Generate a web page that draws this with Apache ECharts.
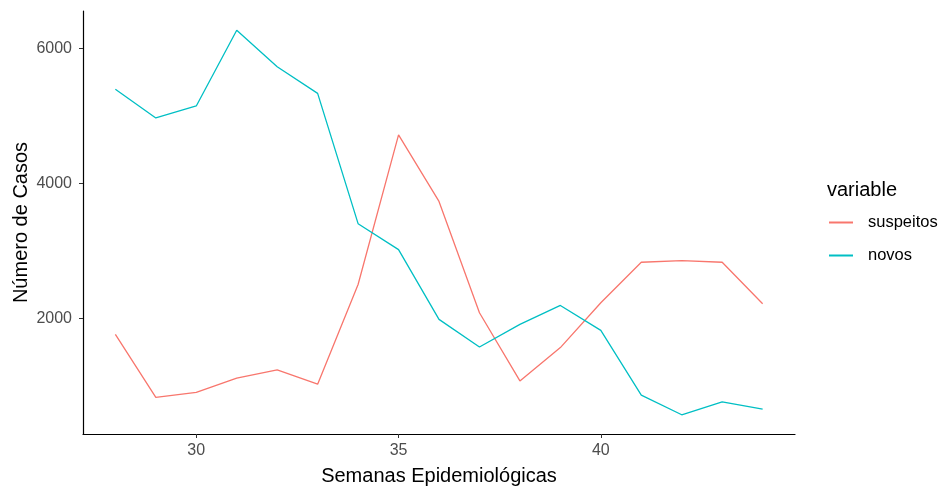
<!DOCTYPE html>
<html>
<head>
<meta charset="utf-8">
<script src="https://cdn.jsdelivr.net/npm/echarts@6/dist/echarts.min.js"></script>
<style>
  html, body { margin: 0; padding: 0; background: #fff; }
  #chart { width: 944px; height: 488px; }
</style>
</head>
<body>
<div id="chart"></div>
<script>
// semanas epidemiológicas
var semanas = [28, 29, 30, 31, 32, 33, 34, 35, 36, 37, 38, 39, 40, 41, 42, 43, 44]
var suspeitos = [1763, 828, 902, 1113, 1236, 1024, 2503, 4720, 3734, 2084, 1073, 1567, 2232, 2832, 2857, 2832, 2217]
var novos = [5396, 4971, 5149, 6272, 5730, 5336, 3404, 3020, 1985, 1576, 1911, 2192, 1823, 862, 571, 763, 655]
var xTicks = [30, 35, 40]
var yTicks = [2000, 4000, 6000]

function pares(ys) {
  return semanas.map(function (s, i) { return [s, ys[i]] })
}

var chartDom = echarts.init(document.getElementById('chart'))
var fonte = '"Liberation Sans", Arial, sans-serif'

chartDom.setOption({
  animation: false,
  color: ['#F8766D', '#00BFC4'],
  textStyle: { fontFamily: fonte },
  title: {
    text: 'variable',
    left: 827,
    top: 180,
    padding: 0,
    textStyle: { fontSize: 20, fontWeight: 'normal', color: '#000', fontFamily: fonte }
  },
  legend: {
    orient: 'vertical',
    left: 829,
    top: 214,
    padding: 0,
    itemWidth: 24,
    itemHeight: 2,
    itemGap: 16,
    icon: 'rect',
    data: ['suspeitos', 'novos'],
    textStyle: { fontSize: 16.5, color: '#000', padding: [0, 0, 0, 10], fontFamily: fonte }
  },
  grid: {
    left: 83,
    right: 149,
    top: 11,
    bottom: 54,
    containLabel: false,
    outerBoundsMode: 'none'
  },
  xAxis: {
    type: 'value',
    min: 27.2,
    max: 44.8,
    name: 'Semanas Epidemiológicas',
    nameLocation: 'middle',
    nameGap: 32,
    nameMoveOverlap: false,
    nameTextStyle: { fontSize: 20, color: '#000', fontFamily: fonte },
    splitLine: { show: false },
    axisLine: { onZero: false, lineStyle: { color: '#000', width: 1.2 } },
    axisTick: { length: 4, lineStyle: { color: '#333' }, customValues: xTicks },
    axisLabel: { fontSize: 16, color: '#4D4D4D', margin: 9, customValues: xTicks }
  },
  yAxis: {
    type: 'value',
    min: 286,
    max: 6557,
    name: 'Número de Casos',
    nameLocation: 'middle',
    nameGap: 52,
    nameMoveOverlap: false,
    nameTextStyle: { fontSize: 20, color: '#000', fontFamily: fonte },
    splitLine: { show: false },
    axisLine: { show: true, onZero: false, lineStyle: { color: '#000', width: 1.2 } },
    axisTick: { show: true, length: 4, lineStyle: { color: '#333' }, customValues: yTicks },
    axisLabel: {
      fontSize: 16,
      color: '#4D4D4D',
      margin: 11,
      customValues: yTicks,
      formatter: function (v) { return String(v) }
    }
  },
  series: [
    {
      name: 'suspeitos',
      type: 'line',
      showSymbol: false,
      lineStyle: { width: 1.3 },
      data: pares(suspeitos)
    },
    {
      name: 'novos',
      type: 'line',
      showSymbol: false,
      lineStyle: { width: 1.3 },
      data: pares(novos)
    }
  ]
})
</script>
</body>
</html>
